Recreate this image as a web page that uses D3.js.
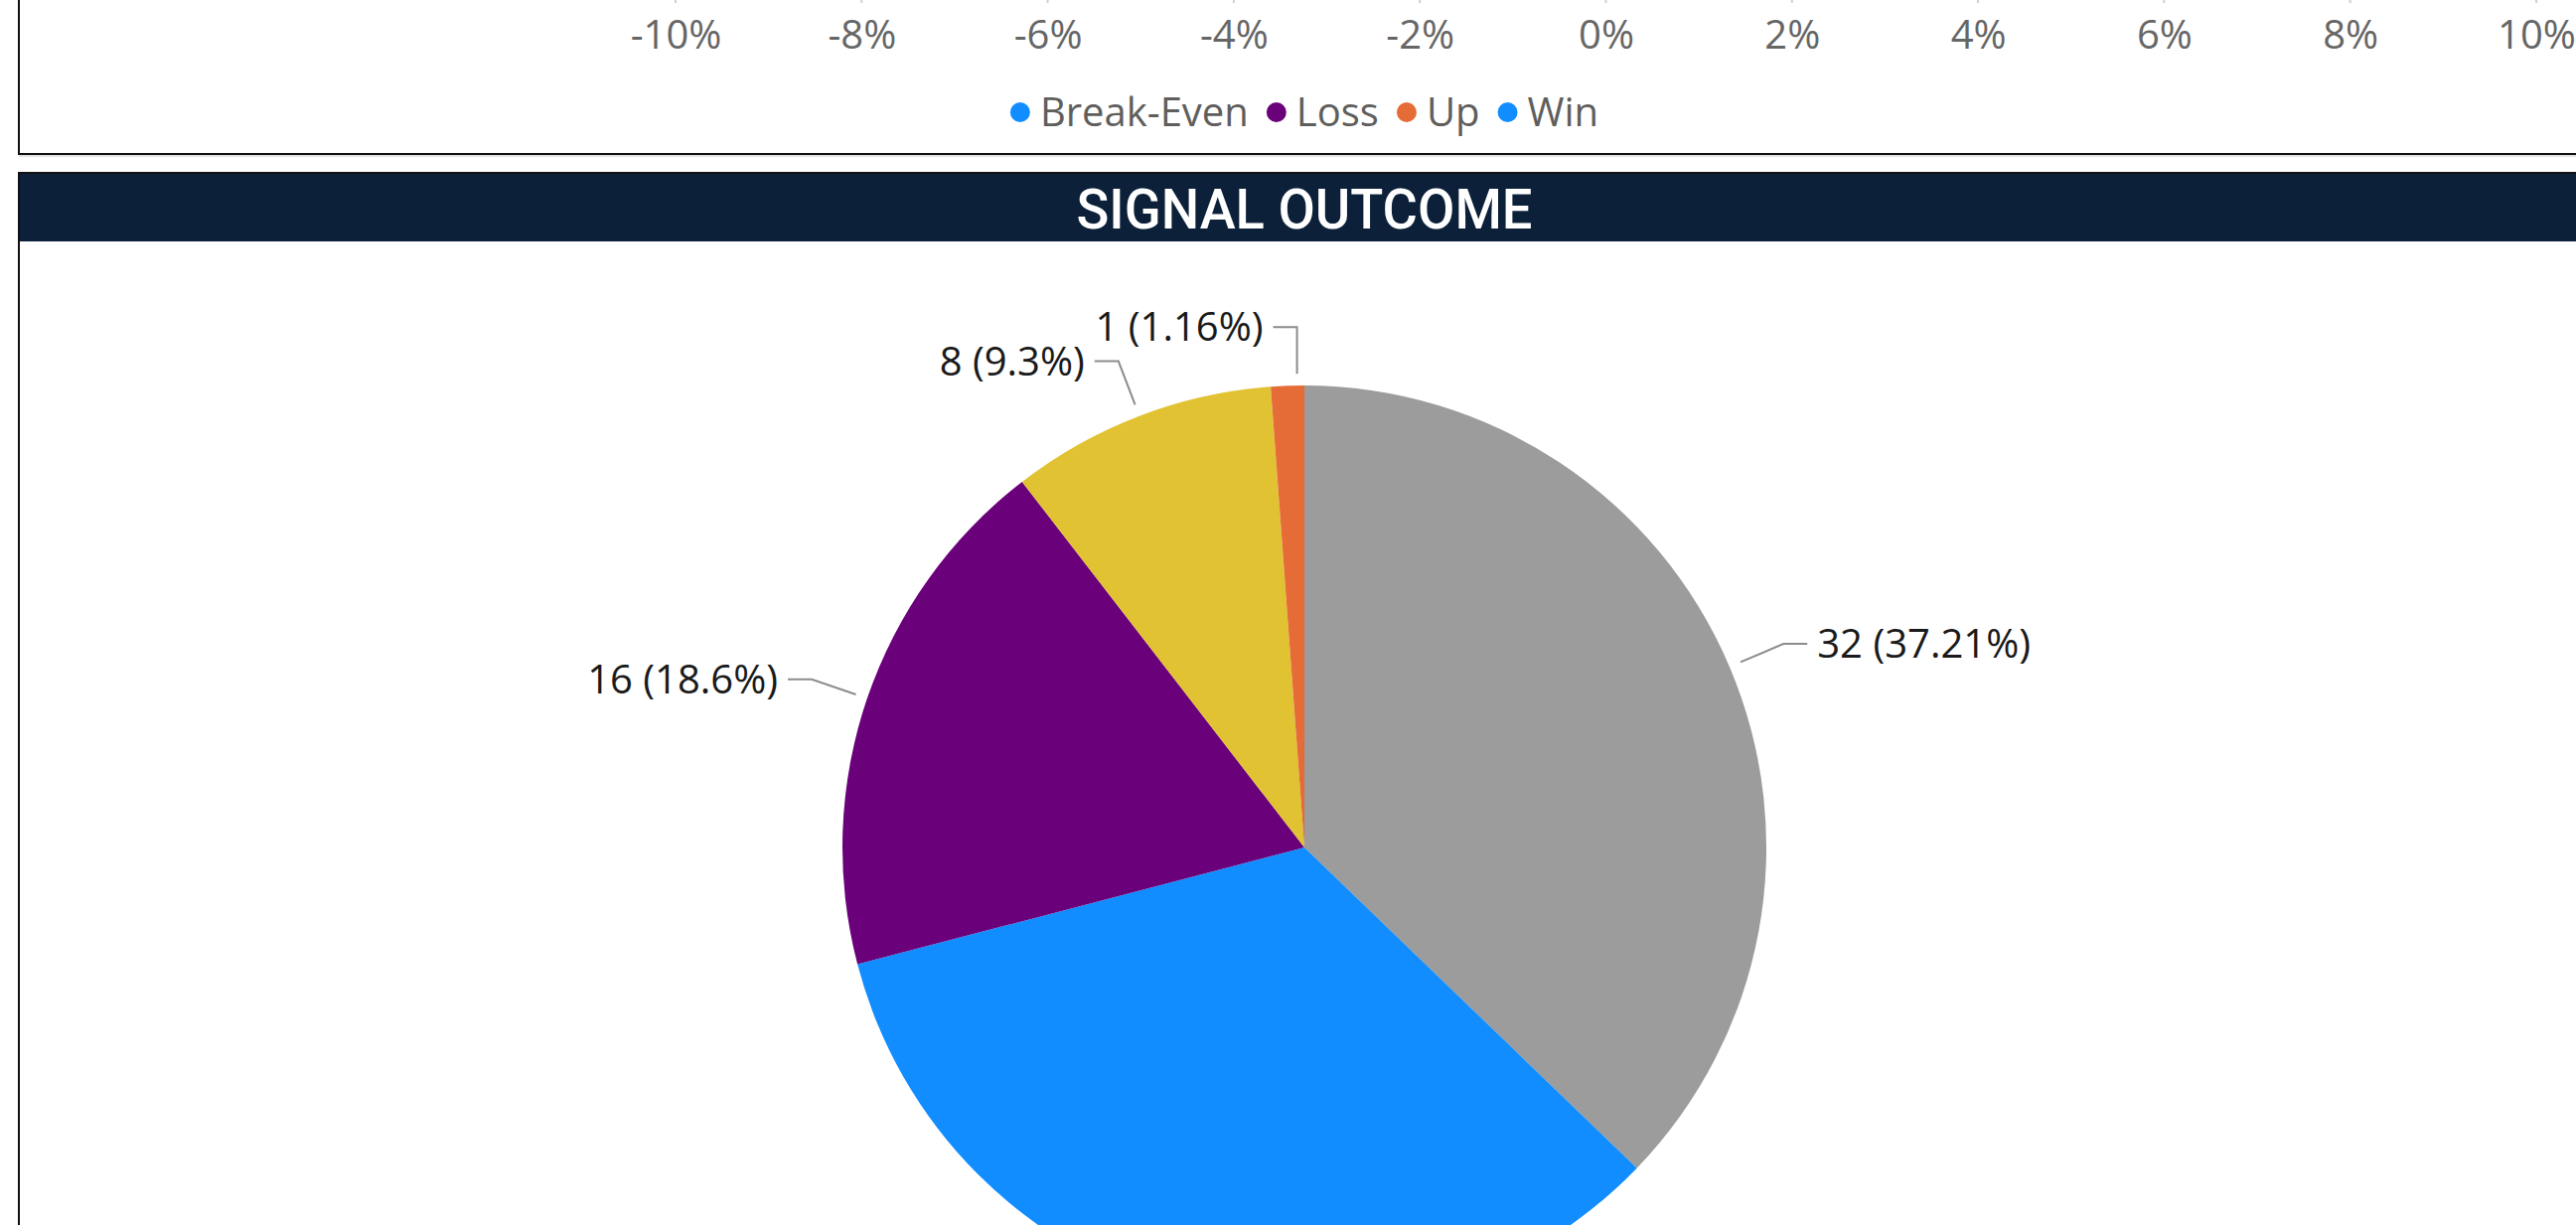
<!DOCTYPE html>
<html>
<head>
<meta charset="utf-8">
<script src="https://cdn.jsdelivr.net/npm/d3@7"></script>
<style>
  body { margin: 0; background: #fff; }
  svg { display: block; }
</style>
</head>
<body>
<svg id="chart" width="2593" height="1233"></svg>
<script>
// top visual: only its axis and legend are in view
var axisTicks = [-0.1, -0.08, -0.06, -0.04, -0.02, 0, 0.02, 0.04, 0.06, 0.08, 0.1];
var legendNames = ["Break-Even", "Loss", "Up", "Win"];
var legendColors = ["#118DFF", "#6B007B", "#E66C37", "#118DFF"];

// signal outcome pie, in the order Power BI draws it (largest first)
var outcomeNames = ["Pending", "Win", "Loss", "Break-Even", "Up"];
var outcomeCounts = [32, 29, 16, 8, 1];
var outcomeColors = ["#9C9C9C", "#118DFF", "#6B007B", "#E1C233", "#E66C37"];

var W = 2593, H = 1233;
var cx = 1313;
var svg = d3.select("#chart");
svg.append("rect").attr("width", W).attr("height", H).attr("fill", "#fff");

var txtFont = "'Open Sans', 'Noto Sans', sans-serif";

// ---- top panel ----
svg.append("rect")
  .attr("x", 19).attr("y", -10)
  .attr("width", 2650).attr("height", 165)
  .attr("fill", "none")
  .attr("stroke", "#111").attr("stroke-width", 2);
svg.append("line")
  .attr("x1", 19).attr("x2", W).attr("y1", 157).attr("y2", 157)
  .attr("stroke", "#c8c8c8").attr("stroke-width", 1);

var xScale = d3.scaleLinear().domain([-0.1, 0.1]).range([680, 2553]);

var xAxis = d3.axisBottom(xScale)
  .tickValues(axisTicks)
  .tickFormat(d3.format(".0%"))
  .tickSizeInner(0)
  .tickSizeOuter(0)
  .tickPadding(0);

var gx = svg.append("g")
  .attr("transform", "translate(0,19)")
  .call(xAxis);
gx.select(".domain").remove();
gx.selectAll("text")
  .attr("dy", "0.75em")
  .attr("font-family", txtFont)
  .attr("font-size", 40)
  .attr("fill", "#666")
  .text(function(d){ return d3.format(".0%")(d).replace("−", "-"); });

// small gridline stubs at the top edge
svg.selectAll(".grid")
  .data(axisTicks)
  .enter().append("line")
  .attr("x1", function(d){ return xScale(d); })
  .attr("x2", function(d){ return xScale(d); })
  .attr("y1", 0).attr("y2", 3)
  .attr("stroke", "#d0d0d0").attr("stroke-width", 2);

// legend, measured then centred
var lg = svg.append("g");
var lx = 0;
legendNames.forEach(function(name, i) {
  lg.append("circle")
    .attr("cx", lx + 10).attr("cy", 113).attr("r", 10)
    .attr("fill", legendColors[i]);
  var t = lg.append("text")
    .attr("x", lx + 30).attr("y", 113)
    .attr("dy", "0.35em")
    .attr("font-family", txtFont)
    .attr("font-size", 40)
    .attr("fill", "#605E5C")
    .text(name);
  lx = lx + 30 + t.node().getComputedTextLength() + 18;
});
lx = lx - 18;
lg.attr("transform", "translate(" + (cx - lx / 2) + ",0)");

// ---- signal outcome panel ----
svg.append("rect")
  .attr("x", 19).attr("y", 174)
  .attr("width", 2650).attr("height", 1200)
  .attr("fill", "none")
  .attr("stroke", "#111").attr("stroke-width", 2);
svg.append("rect")
  .attr("x", 20).attr("y", 175)
  .attr("width", 2640).attr("height", 68)
  .attr("fill", "#0C2039");
svg.append("text")
  .attr("x", cx).attr("y", 230)
  .attr("text-anchor", "middle")
  .attr("font-family", "Roboto, 'DejaVu Sans', sans-serif")
  .attr("font-size", 55)
  .attr("font-weight", 500)
  .attr("textLength", 459)
  .attr("lengthAdjust", "spacingAndGlyphs")
  .attr("fill", "#fff")
  .text("SIGNAL OUTCOME");

var cy = 853, radius = 465;
var total = d3.sum(outcomeCounts);

var pie = d3.pie().sort(null).value(function(d){ return d.count; });
var outcomes = outcomeNames.map(function(n, i) {
  return {name: n, count: outcomeCounts[i], color: outcomeColors[i]};
});
var arcs = pie(outcomes);

var arc = d3.arc().innerRadius(0).outerRadius(radius);
var gp = svg.append("g").attr("transform", "translate(" + cx + "," + cy + ")");

gp.selectAll("path")
  .data(arcs)
  .enter().append("path")
  .attr("d", arc)
  .attr("fill", function(d){ return d.data.color; });

function polar(a, r) {
  return [r * Math.sin(a), -r * Math.cos(a)];
}
var pctFmt = function(v) {
  return (+(v * 100).toFixed(2)) + "%";
};

arcs.forEach(function(d) {
  var mid = (d.startAngle + d.endAngle) / 2;
  var right = mid < Math.PI;
  var p0 = polar(mid, radius + 12);
  var p1 = polar(mid, radius + 59);
  // near-vertical leaders are drawn straight up, as Power BI does
  if (Math.abs(p1[0] - p0[0]) < 12) {
    p0[0] = p0[0] + 10;
    p1[0] = p0[0];
  }
  var p2 = [p1[0] + (right ? 24 : -24), p1[1]];
  // labels that fall below the visible page are not drawn
  if (cy + p2[1] > H) return;
  gp.append("polyline")
    .attr("points", [p0, p1, p2].map(function(p){ return p.join(","); }).join(" "))
    .attr("fill", "none")
    .attr("stroke", "#8C8C8C")
    .attr("stroke-width", 2);
  gp.append("text")
    .attr("x", p2[0] + (right ? 10 : -10))
    .attr("y", p2[1])
    .attr("dy", "0.35em")
    .attr("text-anchor", right ? "start" : "end")
    .attr("font-family", txtFont)
    .attr("font-size", 40)
    .attr("fill", "#1a1a1a")
    .text(d.data.count + " (" + pctFmt(d.data.count / total) + ")");
});
</script>
</body>
</html>
